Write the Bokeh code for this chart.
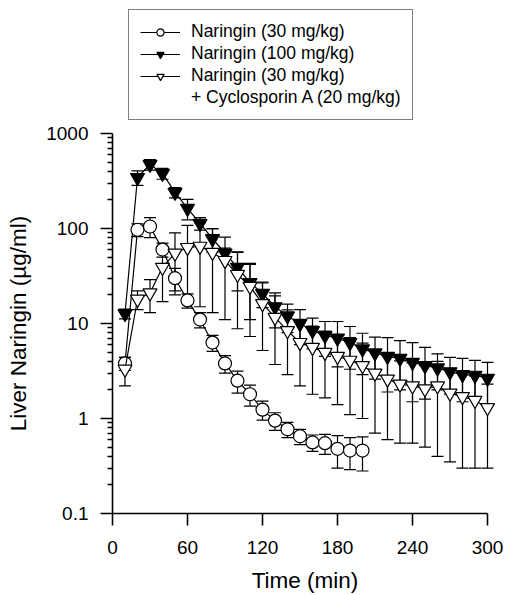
from bokeh.plotting import figure
from bokeh.layouts import column
from bokeh.models import (Range1d, FixedTicker, Whisker, TeeHead, ColumnDataSource,
                          Legend, LegendItem)
from bokeh.embed import file_html
from bokeh.resources import INLINE

# ---- data ----
time_30 = [10, 20, 30, 40, 50, 60, 70, 80, 90, 100, 110, 120, 130, 140, 150, 160, 170, 180, 190, 200]
nar30 = [3.8, 97, 105, 60, 30, 17.5, 11, 6.3, 3.8, 2.5, 1.8, 1.24, 0.95, 0.77, 0.65, 0.56, 0.55, 0.48, 0.46, 0.46]
nar30_se = [0.6, 15, 25, 10, 8, 3, 2, 1.2, 0.8, 0.65, 0.45, 0.28, 0.2, 0.14, 0.12, 0.11, 0.13, 0.18, 0.17, 0.18]

time_all = [10, 20, 30, 40, 50, 60, 70, 80, 90, 100, 110, 120, 130, 140, 150,
            160, 170, 180, 190, 200, 210, 220, 230, 240, 250, 260, 270, 280, 290, 300]
nar100 = [12.7, 344, 472, 380, 240, 163, 113, 78, 55, 39, 27, 20.7, 15, 12, 10,
          8.4, 7.5, 7.0, 6.3, 5.4, 4.9, 4.5, 4.3, 3.9, 3.6, 3.4, 3.1, 2.9, 2.85, 2.65]
nar100_se = [1.5, 60, 60, 50, 30, 40, 17, 22, 7, 17, 16, 6, 6, 4, 4,
             3, 3, 3.5, 3, 2.5, 2.3, 2.6, 2.3, 2.4, 2.0, 1.4, 1.3, 1.4, 1.25, 1.25]
nar30_csa = [3.3, 18, 21, 39, 55, 63, 65, 56, 46, 32.8, 24.6, 16.2, 11.6, 8.4, 6.3,
             5.6, 4.95, 4.5, 4.1, 3.6, 3.0, 2.6, 2.3, 2.2, 2.05, 2.2, 1.85, 1.7, 1.55, 1.3]
nar30_csa_se = [1.1, 4, 8, 22, 35, 45, 50, 43, 35, 24, 17.3, 11, 7.9, 5.5, 4.1,
                3.8, 3.3, 3.1, 3.0, 2.6, 2.3, 2.0, 1.75, 1.65, 1.55, 1.8, 1.5, 1.4, 1.25, 1.0]

series_labels = ["Naringin (30 mg/kg)", "Naringin (100 mg/kg)", "Naringin (30 mg/kg)",
                 "+ Cyclosporin A (20 mg/kg)"]
x_ticks = [0, 60, 120, 180, 240, 300]
y_ticks = [0.1, 1, 10, 100, 1000]
y_tick_labels = ["0.1", "1", "10", "100", "1000"]
y_minor = [m * d for d in [0.1, 1, 10, 100] for m in [2, 3, 4, 5, 6, 7, 8, 9]]

FONT = "Liberation Sans"
LEG_H = 121

# ---------------- main chart ----------------
p = figure(frame_width=385, frame_height=380,
           x_range=Range1d(0, 308), y_range=Range1d(0.1, 1000),
           y_axis_type="log", output_backend="svg", toolbar_location=None,
           min_border_left=112, min_border_right=7, min_border_top=12, min_border_bottom=82)
p.outline_line_color = None
p.grid.visible = False
p.background_fill_color = "white"

p.xaxis.ticker = FixedTicker(ticks=x_ticks, minor_ticks=[])
p.xaxis.bounds = (0, 300)
p.yaxis.ticker = FixedTicker(ticks=y_ticks, minor_ticks=y_minor)
p.yaxis.major_label_overrides = {v: s for v, s in zip(y_ticks, y_tick_labels)}
for ax in (p.xaxis[0], p.yaxis[0]):
    ax.axis_line_color = "black"
    ax.axis_line_width = 1.6
    ax.major_tick_line_color = "black"
    ax.major_tick_line_width = 1.6
    ax.minor_tick_line_color = "black"
    ax.minor_tick_line_width = 1.3
    ax.major_tick_out = 12
    ax.major_tick_in = 0
    ax.minor_tick_out = 5
    ax.minor_tick_in = 0
    ax.major_label_text_font = FONT
    ax.major_label_text_font_size = "19px"
    ax.major_label_text_color = "black"
    ax.axis_label_text_font = FONT
    ax.axis_label_text_font_size = "22.5px"
    ax.axis_label_text_font_style = "normal"
    ax.axis_label_text_color = "black"
p.xaxis.major_label_standoff = 15
p.xaxis.axis_label_standoff = 11
p.yaxis.major_label_standoff = 12
p.yaxis.axis_label_standoff = 12
p.xaxis.axis_label = "Time (min)"
p.yaxis.axis_label = "Liver Naringin (µg/ml)"


def add_whisker(t, v, se):
    src = ColumnDataSource(dict(t=t, upper=[a + b for a, b in zip(v, se)],
                                lower=[a - b for a, b in zip(v, se)]))
    w = Whisker(base="t", upper="upper", lower="lower", source=src,
                line_color="black", line_width=1.2,
                upper_head=TeeHead(size=12, line_color="black", line_width=1.2),
                lower_head=TeeHead(size=12, line_color="black", line_width=1.2))
    p.add_layout(w)


add_whisker(time_all, nar100, nar100_se)
add_whisker(time_30, nar30, nar30_se)
add_whisker(time_all, nar30_csa, nar30_csa_se)

p.line(time_all, nar100, line_color="black", line_width=1.2)
p.scatter(time_all, nar100, marker="inverted_triangle", size=14,
          fill_color="black", line_color="black", line_width=1.2)
p.line(time_30, nar30, line_color="black", line_width=1.2)
p.scatter(time_30, nar30, marker="circle", size=13,
          fill_color="white", line_color="black", line_width=1.2)
p.line(time_all, nar30_csa, line_color="black", line_width=1.2)
p.scatter(time_all, nar30_csa, marker="inverted_triangle", size=14,
          fill_color="white", line_color="black", line_width=1.2)

# ---------------- legend strip above the chart ----------------
# the strip's x range lies beyond the data, so only the legend is visible in it
lg = figure(frame_width=504, frame_height=LEG_H, x_range=Range1d(400, 500),
            y_range=Range1d(0.1, 1000), y_axis_type="log",
            output_backend="svg", toolbar_location=None,
            x_axis_location=None, y_axis_location=None,
            min_border_left=0, min_border_right=0, min_border_top=0, min_border_bottom=0)
lg.outline_line_color = None
lg.grid.visible = False

series = [(time_30, nar30, "circle", "white", 12),
          (time_all, nar100, "inverted_triangle", "black", 13),
          (time_all, nar30_csa, "inverted_triangle", "white", 13)]
items = []
for lab, (t, v, mk, fc, sz) in zip(series_labels[:3], series):
    ln = lg.line(t, v, line_color="black", line_width=1.2)
    sc = lg.scatter(t, v, marker=mk, size=sz, fill_color=fc, line_color="black", line_width=1.2)
    items.append(LegendItem(label=lab, renderers=[ln, sc]))
blank = lg.line(time_all, nar30_csa, line_alpha=0)
items.append(LegendItem(label=series_labels[3], renderers=[blank]))

legend = Legend(items=items, location=(128, 1), border_line_color="black", border_line_width=1.3,
                background_fill_color="white", background_fill_alpha=1.0,
                label_text_font=FONT, label_text_font_size="17.5px", label_text_color="black",
                glyph_width=40, glyph_height=18, label_height=18, spacing=1, padding=11,
                margin=0, label_standoff=11)
lg.add_layout(legend)

layout = column(lg, p, spacing=0)
open("out.html", "w").write(file_html(layout, INLINE))
